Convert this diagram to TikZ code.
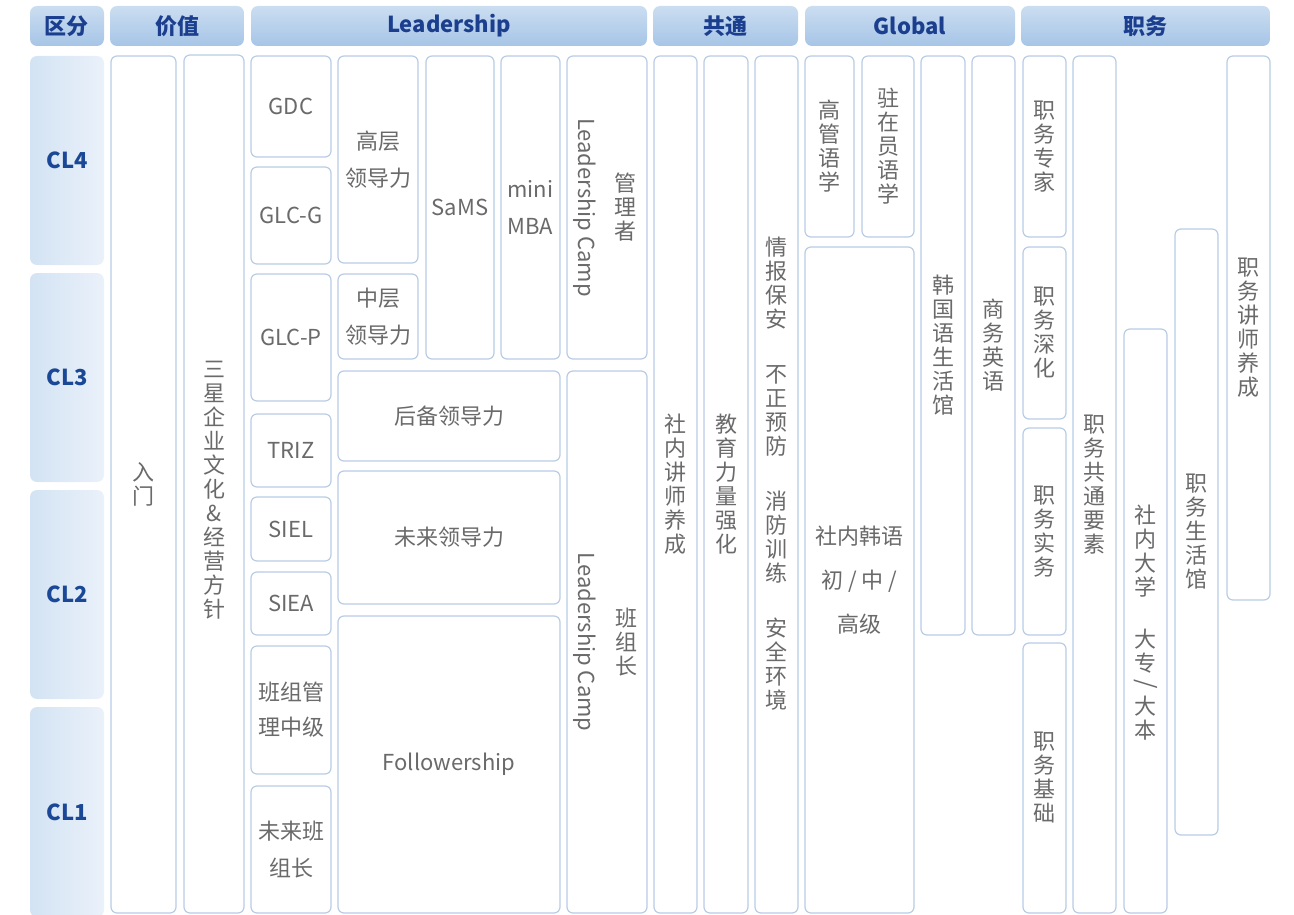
\documentclass[tikz,border=0pt]{standalone}
\usepackage{fontspec}
\setmainfont{Noto Sans CJK SC}
\definecolor{bd}{HTML}{B9CCE6}
\definecolor{txt}{HTML}{6A6A6A}
\definecolor{hTop}{HTML}{CBDDF1}
\definecolor{hBot}{HTML}{A6C5E7}
\definecolor{hTxt}{HTML}{1B3F8E}
\definecolor{clL}{HTML}{D3E3F3}
\definecolor{clR}{HTML}{EAF1FA}
\definecolor{clT}{HTML}{1A4796}
\newcommand\bx[7][box]{\node[#1, minimum width={(#5)-(#3)}, minimum height={(#6)-(#4)}] (#2) at ({(#3+#5)/2},{(#4+#6)/2}) {#7};}
\begin{document}
\begin{tikzpicture}[x=1pt,y=-1pt,
 box/.style={draw=bd, line width=1.2pt, fill=white, rounded corners=6pt, inner sep=0pt, outer sep=0pt, text=txt, align=center, font=\fontsize{22}{24}\selectfont},
 hdr/.style={top color=hTop, bottom color=hBot, draw=none, rounded corners=7pt, inner sep=0pt, outer sep=0pt, text=hTxt, font=\bfseries\fontsize{22}{26}\selectfont},
 clbox/.style={left color=clL, right color=clR, draw=none, rounded corners=7pt, inner sep=0pt, outer sep=0pt, text=clT, font=\bfseries\fontsize{22}{26}\selectfont},
 lbl/.style={text=txt, align=center, inner sep=0pt, font=\fontsize{22}{24}\selectfont},
 lat/.style={font=\fontsize{22}{37}\selectfont},
 two/.style={font=\fontsize{22}{37}\selectfont},
 twob/.style={font=\fontsize{22}{35}\selectfont},
 three/.style={font=\fontsize{22}{44}\selectfont}]
\useasboundingbox (0,0) rectangle (1294,915);
% headers
\bx[hdr]{h1}{30}{6}{104}{46}{区分}
\bx[hdr]{h2}{110}{6}{244}{46}{价值}
\bx[hdr]{h3}{251}{6}{647}{46}{Leadership}
\bx[hdr]{h4}{653}{6}{798}{46}{共通}
\bx[hdr]{h5}{805}{6}{1015}{46}{Global}
\bx[hdr]{h6}{1021}{6}{1270}{46}{职务}
% levels
\bx[clbox]{cl4}{30}{56}{104}{265}{CL4}
\bx[clbox]{cl3}{30}{273}{104}{482}{CL3}
\bx[clbox]{cl2}{30}{490}{104}{699}{CL2}
\bx[clbox]{cl1}{30}{707}{104}{917}{CL1}
% value
\bx{rumen}{111}{56}{176}{913}{入\\门}
\bx{sanxing}{184}{55}{244}{913}{}
\node[lbl] (sanxing-t) at (214,490) {三\\星\\企\\业\\文\\化\\\&\\经\\营\\方\\针};
% leadership
\bx[box,lat]{gdc}{251}{56}{331}{157}{GDC}
\bx[box,lat]{glcg}{251}{167}{331}{264}{GLC-G}
\bx[box,lat]{glcp}{251}{274}{331}{401}{GLC-P}
\bx[box,lat]{triz}{251}{414}{331}{487}{TRIZ}
\bx[box,lat]{siel}{251}{497}{331}{561}{SIEL}
\bx[box,lat]{siea}{251}{572}{331}{635}{SIEA}
\bx[box,twob]{bzgl}{251}{646}{331}{774}{班组管\\理中级}
\bx[box,two]{wlbz}{251}{786}{331}{913}{未来班\\组长}
\bx[box,two]{gaoceng}{338}{56}{418}{263}{高层\\领导力}
\bx[box,two]{zhongceng}{338}{274}{418}{359}{中层\\领导力}
\bx[box,lat]{sams}{426}{56}{494}{359}{SaMS}
\bx[box,lat]{mba}{501}{56}{560}{359}{mini\\MBA}
\bx{lcm}{567}{56}{647}{359}{}
\node[lbl, lat, rotate=-90] (lcm-a) at ([xshift=-22pt]lcm.center) {Leadership Camp};
\node[lbl] (lcm-b) at ([xshift=18pt]lcm.center) {管\\理\\者};
\bx{houbei}{338}{371}{560}{461}{后备领导力}
\bx{weilai}{338}{471}{560}{604}{未来领导力}
\bx[box,lat]{follow}{338}{616}{560}{913}{Followership}
\bx{lcb}{567}{371}{647}{913}{}
\node[lbl, lat, rotate=-90] (lcb-a) at ([xshift=-22pt]lcb.center) {Leadership Camp};
\node[lbl] (lcb-b) at ([xshift=19pt]lcb.center) {班\\组\\长};
% common
\bx{jiangshi}{654}{56}{697}{913}{社\\内\\讲\\师\\养\\成}
\bx{jiaoyu}{704}{56}{748}{913}{教\\育\\力\\量\\强\\化}
\bx{qingbao}{755}{56}{798}{913}{}
\node[lbl] (qingbao-t) at (776.5,474) {情\\报\\保\\安\\[31pt]不\\正\\预\\防\\[31pt]消\\防\\训\\练\\[31pt]安\\全\\环\\境};
% global
\bx{gaoguan}{805}{56}{854}{237}{高\\管\\语\\学}
\bx{zhuzai}{862}{56}{914}{237}{驻\\在\\员\\语\\学}
\bx[box,three]{hanyu}{805}{247}{914}{913}{社内韩语\\初 / 中 /\\高级}
\bx{hanguo}{921}{56}{965}{635}{韩\\国\\语\\生\\活\\馆}
\bx{shangwu}{972}{56}{1015}{635}{商\\务\\英\\语}
% job
\bx{zwzj}{1023}{56}{1066}{237}{职\\务\\专\\家}
\bx{zwsh}{1023}{247}{1066}{419}{职\\务\\深\\化}
\bx{zwsw}{1023}{428}{1066}{635}{职\\务\\实\\务}
\bx{zwjc}{1023}{643}{1066}{913}{职\\务\\基\\础}
\bx{zwgt}{1073}{56}{1116}{913}{职\\务\\共\\通\\要\\素}
\bx{shenei}{1124}{329}{1167}{913}{}
\node[lbl] (shenei-a) at (1145.5,551) {社\\内\\大\\学};
\node[lbl] (shenei-b) at (1145.5,651) {大\\专};
\node[lbl, rotate=-90, font=\fontsize{24}{24}\selectfont] (shenei-s) at (1145.5,684) {/};
\node[lbl] (shenei-c) at (1145.5,718) {大\\本};
\bx{zwshg}{1175}{229}{1218}{835}{职\\务\\生\\活\\馆}
\bx{zwjs}{1227}{56}{1270}{600}{职\\务\\讲\\师\\养\\成}
\end{tikzpicture}
\end{document}
